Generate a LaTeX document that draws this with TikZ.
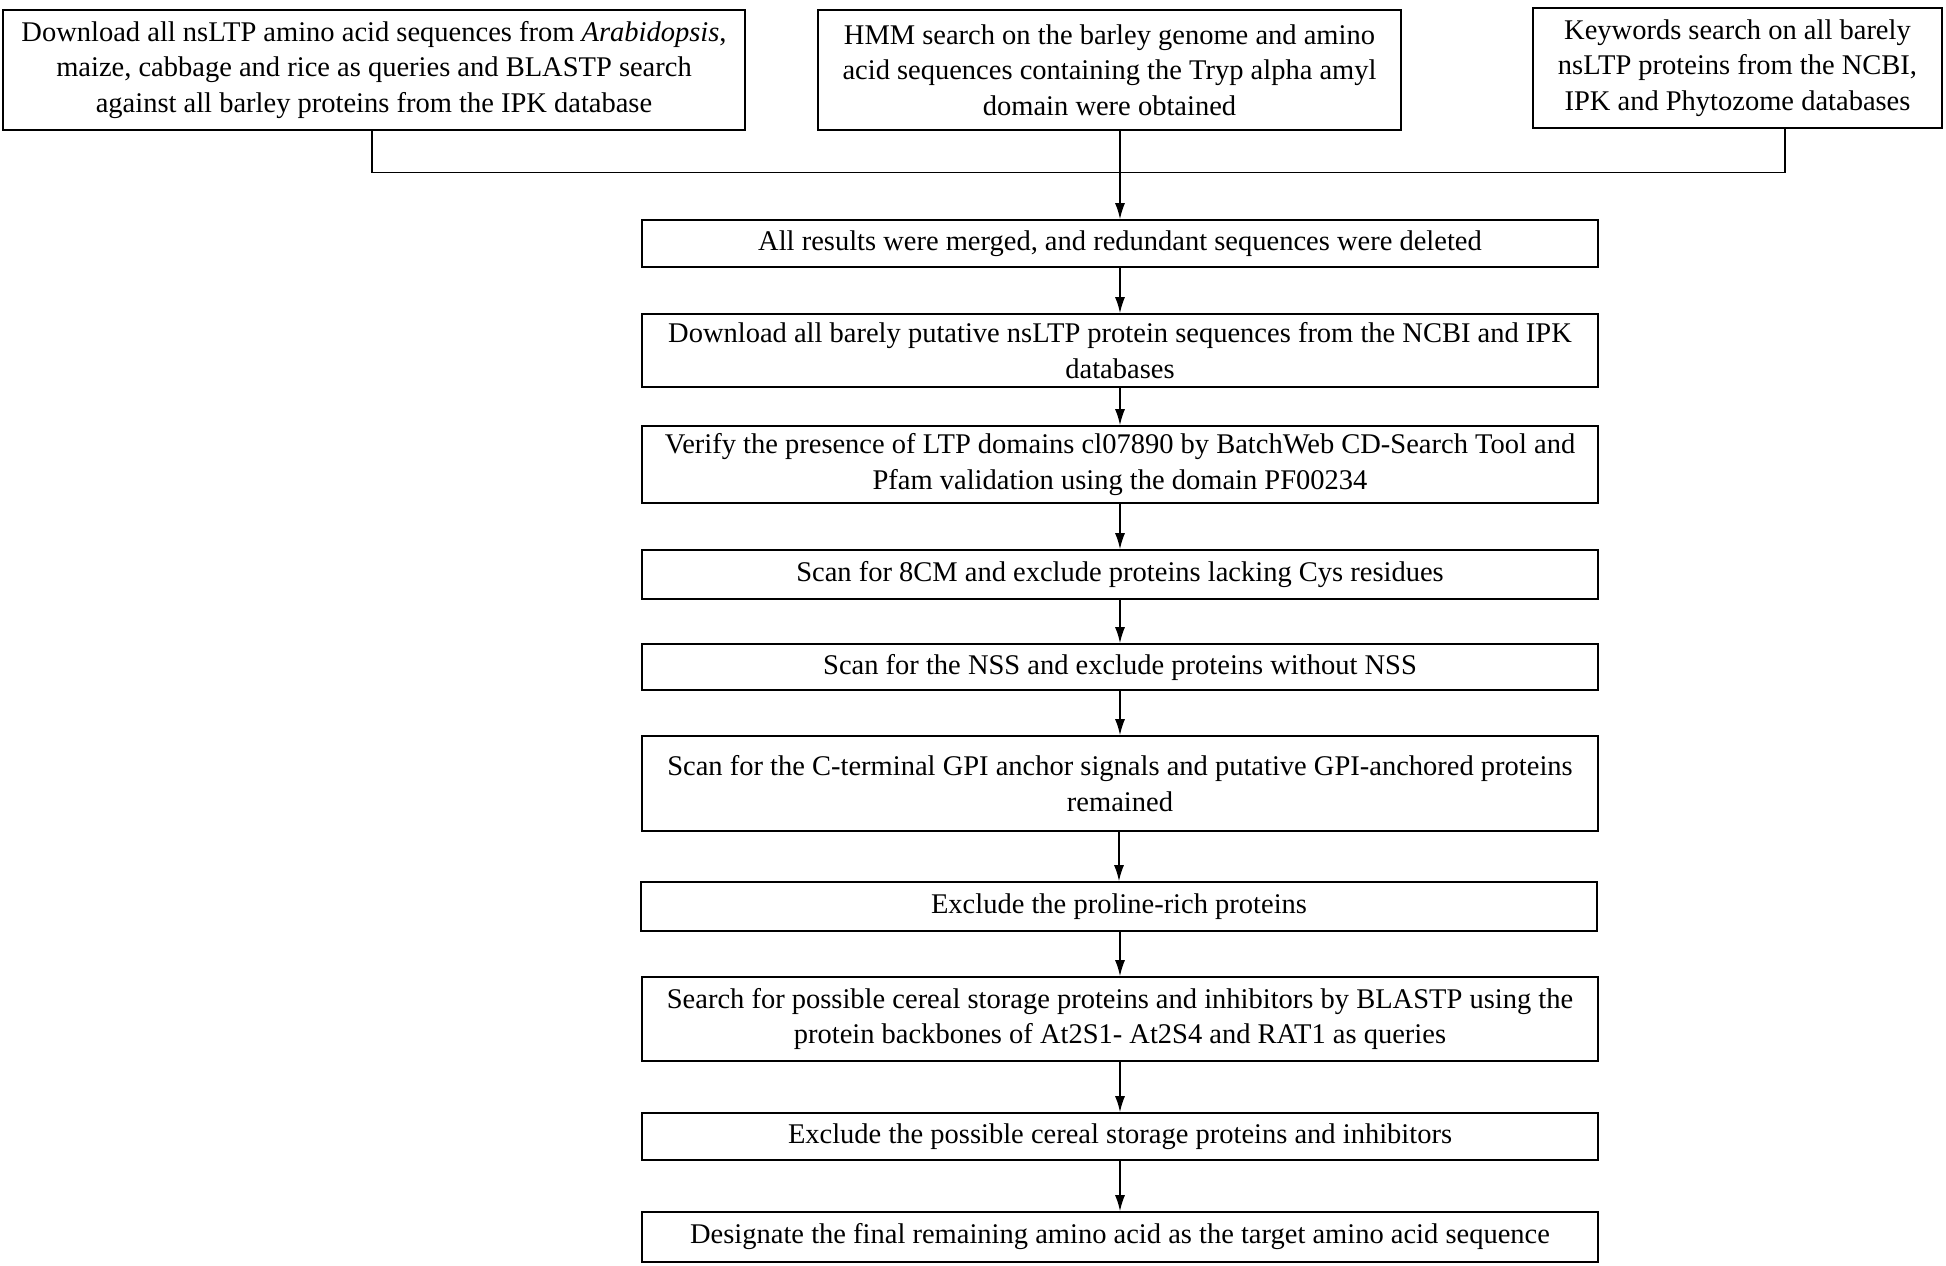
\documentclass[tikz,border=0pt]{standalone}
\usepackage{fontspec}
\setmainfont{Liberation Serif}
\usetikzlibrary{arrows.meta}
\begin{document}
\begin{tikzpicture}[x=1pt,y=-1pt,
  box/.style={draw,line width=1.6pt,rectangle,align=center,inner sep=0pt,
    font=\fontsize{28.5}{35.5}\selectfont},
  conn/.style={line width=1.6pt},
  arr/.style={line width=1.6pt,-{Latex[length=16pt,width=10pt]}}]
\useasboundingbox[fill=white] (0,0) rectangle (1946,1266);
% top row
\node[box,minimum width=742pt,minimum height=120pt] (b1) at (374,70)
  {Download all nsLTP amino acid sequences from \textit{Arabidopsis},\\
   maize, cabbage and rice as queries and BLASTP search\\
   against all barley proteins from the IPK database};
\node[box,minimum width=583pt,minimum height=120pt] (b2) at (1109.5,70)
  {HMM search on the barley genome and amino\\
   acid sequences containing the Tryp alpha amyl\\
   domain were obtained};
\node[box,minimum width=409pt,minimum height=120pt] (b3) at (1737.5,68)
  {Keywords search on all barely\\
   nsLTP proteins from the NCBI,\\
   IPK and Phytozome databases};
% main column
\node[box,minimum width=956pt,minimum height=47pt] (b4) at (1120,243.5)
  {All results were merged, and redundant sequences were deleted};
\node[box,minimum width=956pt,minimum height=73pt] (b5) at (1120,350.5)
  {Download all barely putative nsLTP protein sequences from the NCBI and IPK\\
   databases};
\node[box,minimum width=956pt,minimum height=77pt] (b6) at (1120,464.5)
  {Verify the presence of LTP domains cl07890 by BatchWeb CD-Search Tool and\\
   Pfam validation using the domain PF00234};
\node[box,minimum width=956pt,minimum height=49pt] (b7) at (1120,574.5)
  {Scan for 8CM and exclude proteins lacking Cys residues};
\node[box,minimum width=956pt,minimum height=46pt] (b8) at (1120,667)
  {Scan for the NSS and exclude proteins without NSS};
\node[box,minimum width=956pt,minimum height=95pt] (b9) at (1120,783.5)
  {Scan for the C-terminal GPI anchor signals and putative GPI-anchored proteins\\
   remained};
\node[box,minimum width=956pt,minimum height=49pt] (b10) at (1119,906.5)
  {Exclude the proline-rich proteins};
\node[box,minimum width=956pt,minimum height=84pt] (b11) at (1120,1019)
  {Search for possible cereal storage proteins and inhibitors by BLASTP using the\\
   protein backbones of At2S1- At2S4 and RAT1 as queries};
\node[box,minimum width=956pt,minimum height=47pt] (b12) at (1120,1136.5)
  {Exclude the possible cereal storage proteins and inhibitors};
\node[box,minimum width=956pt,minimum height=50pt] (b13) at (1120,1237)
  {Designate the final remaining amino acid as the target amino acid sequence};
% merge connectors
\coordinate (jl) at (372,172.5);
\coordinate (jr) at (1785,172.5);
\draw[conn] (b1.south -| jl) -- (jl) -- (jr) -- (b3.south -| jr);
\draw[arr] (b2.south -| b4.north) -- (b4.north);
% chain
\draw[arr] (b4) -- (b5);
\draw[arr] (b5) -- (b6);
\draw[arr] (b6) -- (b7);
\draw[arr] (b7) -- (b8);
\draw[arr] (b8) -- (b9);
\draw[arr] (b9.south -| b10.north) -- (b10.north);
\draw[arr] (b10.south -| b11.north) -- (b11.north);
\draw[arr] (b11) -- (b12);
\draw[arr] (b12) -- (b13);
\end{tikzpicture}
\end{document}
